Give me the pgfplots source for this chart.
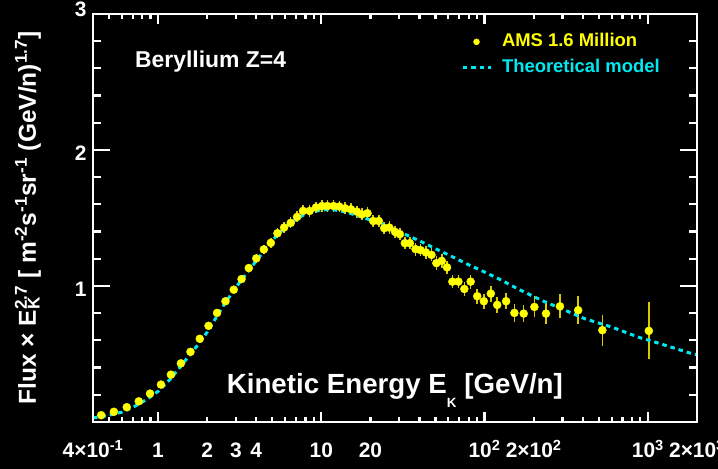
\documentclass[border=0pt]{standalone}
\usepackage{pgfplots}
\pgfplotsset{compat=1.18}
\usepackage{fontspec}
\setmainfont{Liberation Sans}
\definecolor{amsyellow}{RGB}{255,255,0}
\definecolor{errcol}{RGB}{215,200,0}
\definecolor{modelcyan}{RGB}{0,232,240}

\pgfplotstableread{
x y e
0.449 0.050 0.015
0.537 0.075 0.015
0.644 0.109 0.015
0.763 0.152 0.015
0.894 0.209 0.015
1.043 0.275 0.018
1.20 0.348 0.018
1.381 0.431 0.02
1.582 0.516 0.02
1.803 0.612 0.02
2.04 0.707 0.022
2.30 0.802 0.022
2.59 0.888 0.025
2.91 0.973 0.028
3.25 1.051 0.03
3.60 1.132 0.032
4.00 1.203 0.034
4.45 1.269 0.035
4.91 1.317 0.036
5.39 1.388 0.037
5.92 1.430 0.038
6.50 1.464 0.04
7.11 1.508 0.04
7.73 1.552 0.04
8.49 1.552 0.042
9.28 1.577 0.042
10.1 1.588 0.043
10.9 1.588 0.043
11.9 1.588 0.043
12.9 1.584 0.043
14.0 1.571 0.044
15.2 1.564 0.044
16.5 1.547 0.044
17.7 1.527 0.045
19.2 1.535 0.045
20.8 1.478 0.045
22.5 1.478 0.045
24.3 1.425 0.045
26.1 1.430 0.045
28.3 1.398 0.046
30.3 1.381 0.046
32.5 1.315 0.046
34.9 1.315 0.046
37.8 1.271 0.047
40.5 1.264 0.047
43.7 1.247 0.048
47.3 1.229 0.048
50.7 1.168 0.049
54.7 1.185 0.049
58.9 1.137 0.05
63.5 1.032 0.05
69.2 1.032 0.05
75.2 0.978 0.052
82.2 1.032 0.052
90.2 0.925 0.054
99.0 0.888 0.055
109.2 0.944 0.058
119.5 0.861 0.058
135.5 0.888 0.06
152.3 0.802 0.065
173.7 0.797 0.064
201.9 0.846 0.077
237.8 0.797 0.075
289.5 0.851 0.088
374.4 0.822 0.105
526.5 0.675 0.115
1014 0.670 0.21
}\amsdata

\pgfplotstableread{
x y
0.40 0.030
0.45 0.040
0.50 0.050
0.60 0.072
0.72 0.115
0.85 0.165
1.00 0.225
1.20 0.320
1.40 0.420
1.75 0.565
2.00 0.660
2.50 0.850
3.00 0.990
3.50 1.095
4.00 1.185
5.00 1.335
6.00 1.430
7.00 1.490
8.00 1.530
10.0 1.560
12.0 1.560
14.0 1.545
17.0 1.515
20.0 1.485
23.5 1.454
32.5 1.381
41.1 1.325
50.7 1.271
62.8 1.218
78.4 1.161
97.8 1.108
122.8 1.051
163.5 0.973
226 0.892
315 0.819
414 0.758
605 0.697
873 0.624
1196 0.575
1865 0.502
2000 0.495
}\modeldata

\pgfplotsset{
  every axis/.append style={
    width=604bp, height=408bp, scale only axis,
    xmin=0.4, xmax=2000, ymin=0, ymax=3,
    axis line style={white, line width=2.2bp},
    tick style={white, line width=2.2bp},
    tick align=inside,
    ticklabel pos=left,
    /pgf/number format/assume math mode=true,
    tick label style={white, font=\bfseries\fontsize{21}{24}\selectfont},
    xticklabel style={text height=15bp, text depth=0pt, yshift=-17bp},
    yticklabel style={text height=15bp, text depth=0pt, yshift=-3.5bp, xshift=-3bp},
  },
  dotlegend/.style={legend image code/.code={\draw[mark repeat=2,mark phase=2,mark size=3bp,##1] plot coordinates {(0bp,0bp) (14bp,0bp) (28bp,0bp)};}},
  linelegend/.style={legend image code/.code={\draw[##1] (0bp,0bp) -- (28bp,0bp);}},
}

\begin{document}
\begin{tikzpicture}
\path[fill=black, use as bounding box] (-93bp,-47bp) rectangle (625bp,422bp);
% axis A: data, major/minor x ticks
\begin{semilogxaxis}[
  xtick={1,10,100,1000},
  xticklabels={1,10,10\textsuperscript{2},10\textsuperscript{3}},
  minor xtick={0.5,0.6,0.7,0.8,0.9,2,3,4,5,6,7,8,9,20,30,40,50,60,70,80,90,200,300,400,500,600,700,800,900},
  major tick length=10bp, minor tick length=5bp,
  ytick=\empty,
  xlabel={Kinetic Energy E\raisebox{-14.5bp}{\fontsize{13.5}{14}\selectfont K}\ [GeV/n]},
  xlabel style={at={(rel axis cs:0.2213,0.0703)}, anchor=base west, inner sep=0pt, white, font=\bfseries\fontsize{27.8}{30}\selectfont},
  legend style={at={(rel axis cs:0.609,0.953)}, anchor=north west, draw=none, fill=none,
    font=\bfseries\fontsize{18.5}{20}\selectfont, row sep=9bp, inner sep=0pt,
    nodes={inner sep=0pt, text height=13bp, text depth=4bp},
    /tikz/every odd column/.append style={column sep=10bp}},
  legend cell align=left,
]
\addplot[only marks, mark=none, forget plot,
  error bars/.cd, y dir=both, y explicit, error mark=none,
  error bar style={errcol, line width=1.5bp}]
  table[x=x, y=y, y error=e] {\amsdata};
\addplot[only marks, mark=*, mark size=4bp, color=amsyellow,
  mark options={draw=amsyellow, fill=amsyellow}, dotlegend]
  table[x=x, y=y] {\amsdata};
\addlegendentry{\textcolor{amsyellow}{AMS 1.6 Million}}
\addplot[modelcyan, line width=3bp, dash pattern=on 4.5bp off 4bp, linelegend]
  table[x=x, y=y] {\modeldata};
\addlegendentry{\textcolor{modelcyan}{Theoretical model}}
\node[anchor=base west, inner sep=0pt, white, font=\bfseries\fontsize{23}{26}\selectfont]
  at (rel axis cs:0.0695,0.868) {Beryllium Z=4};
\end{semilogxaxis}
% axis C: extra x labels
\begin{semilogxaxis}[
  xtick={0.4,2,3,4,20,200,2000},
  xticklabels={4×10\textsuperscript{-1},2,3,4,20,2×10\textsuperscript{2},2×10\textsuperscript{3}},
  minor xtick={},
  major tick length=0pt,
  xtick style={draw=none},
  ytick=\empty,
]
\end{semilogxaxis}
% axis B: y ticks
\begin{semilogxaxis}[
  xtick=\empty,
  ytick={1,2,3},
  yticklabels={1,2,\raisebox{8bp}{3}},
  minor ytick={0.2,0.4,0.6,0.8,1.2,1.4,1.6,1.8,2.2,2.4,2.6,2.8},
  major tick length=17bp, minor tick length=8bp,
  ylabel={Flux × E\makebox[0pt][l]{\textsubscript{K}}\textsuperscript{2.7} [ m\textsuperscript{-2}s\textsuperscript{-1}sr\textsuperscript{-1} (GeV/n)\textsuperscript{1.7}]},
  ylabel style={at={(rel axis cs:0,0.5)}, anchor=center, yshift=65bp, white, font=\bfseries\fontsize{24.6}{28}\selectfont},
]
\end{semilogxaxis}
\end{tikzpicture}
\end{document}
